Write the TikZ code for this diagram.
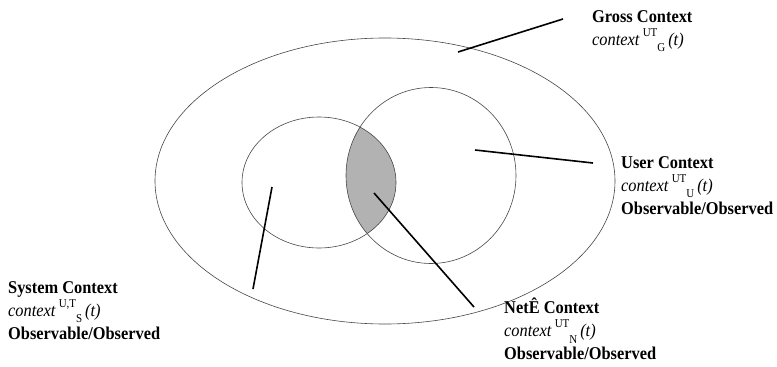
\documentclass[tikz,border=0pt]{standalone}
\usepackage{fontspec}
\setmainfont{Liberation Serif}[FakeStretch=0.91]
\usepackage{tikz}
\usetikzlibrary{shapes.geometric, positioning}
\definecolor{ringgray}{RGB}{70,70,70}
\definecolor{lensgray}{RGB}{178,178,178}
\newcommand{\ctxline}[2]{\textit{context}\,\smash{\raisebox{0.5em}{\fontsize{12}{12}\selectfont #1}}%
  \smash{\raisebox{-0.35em}{\fontsize{12}{12}\selectfont #2}}\,\textit{(t)}}
\tikzset{
  ring/.style={ellipse, draw=ringgray, line width=0.6pt, inner sep=0pt},
  leader/.style={line width=1.6pt, color=black},
  callout/.style={anchor=north west, align=left, inner sep=0pt,
    font=\fontsize{18}{23}\selectfont}
}
\begin{document}
\begin{tikzpicture}[x=1pt, y=-1pt]
  \useasboundingbox (0,0) rectangle (777,367);

  % Net context (overlap)
  \begin{scope}
    \clip (319,182.5) ellipse [x radius=77, y radius=65.5];
    \fill[lensgray] (431,175.5) ellipse [x radius=85, y radius=88];
  \end{scope}

  % Contexts
  \node[ring, minimum width=460pt, minimum height=286pt] (gross) at (385,181) {};
  \node[ring, minimum width=154pt, minimum height=131pt] (sys) at (319,182.5) {};
  \node[ring, minimum width=170pt, minimum height=176pt] (user) at (431,175.5) {};

  % Anchor points of the leaders
  \coordinate (grossin) at (458,52);
  \coordinate (grossend) at (563,19);
  \coordinate (userin) at (475,150);
  \coordinate (userend) at (593,163);
  \coordinate (sysin) at (272,187);
  \coordinate (sysend) at (253,289);
  \coordinate (netin) at (374,193);
  \coordinate (netend) at (474,307);

  % Labels
  \node[callout] (grosstxt) at (592,10) {\textbf{Gross Context}\\ \ctxline{UT}{G}};
  \node[callout] (usertxt) at (621,156) {\textbf{User Context}\\ \ctxline{UT}{U}\\ \textbf{Observable/Observed}};
  \node[callout] (systxt) at (8,281) {\textbf{System Context}\\ \ctxline{U,T}{S}\\ \textbf{Observable/Observed}};
  \node[callout] (nettxt) at (504,298) {\textbf{NetÊ Context}\\ \ctxline{UT}{N}\\ \textbf{Observable/Observed}};

  % Leaders
  \draw[leader] (grossin) -- (grossend);
  \draw[leader] (userin) -- (userend);
  \draw[leader] (sysin) -- (sysend);
  \draw[leader] (netin) -- (netend);
\end{tikzpicture}
\end{document}
